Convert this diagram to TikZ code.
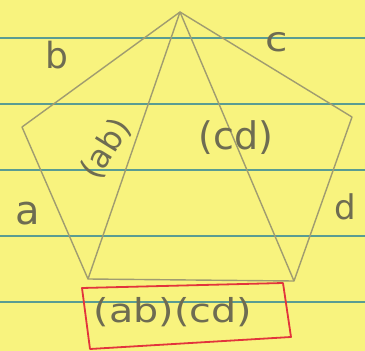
\documentclass[tikz,border=0pt]{standalone}
\usepackage{fontspec}
\setmainfont{DejaVu Sans}
\definecolor{paper}{HTML}{F8F37E}
\definecolor{rule}{HTML}{5A9C92}
\definecolor{pencil}{HTML}{A09C70}
\definecolor{ink}{HTML}{6E6C52}
\definecolor{redpen}{HTML}{E2343C}
\newcommand{\fsz}[1]{\fontsize{#1}{#1}\selectfont}
\begin{document}
\begin{tikzpicture}[x=1pt,y=-1pt,
  ruleline/.style={rule,line width=2.6pt},
  edge/.style={pencil,line width=1.4pt,line join=round},
  lbl/.style={ink,inner sep=0pt},
  redbox/.style={redpen,line width=1.8pt,line join=round}]
\fill[paper] (0,0) rectangle (365,351);
\useasboundingbox (0,0) rectangle (365,351);
% ruled lines
\foreach \y in {38,104,170,236,302} \draw[ruleline] (0,\y) -- (365,\y);
% pentagon vertices
\coordinate (T) at (180,12);
\coordinate (UL) at (22,127);
\coordinate (UR) at (352,117);
\coordinate (BL) at (88,279);
\coordinate (BR) at (294,281);
\draw[edge] (T) -- (UL) -- (BL) -- (BR) -- (UR) -- cycle;
\draw[edge] (T) -- (BL);
\draw[edge] (T) -- (BR);
% labels
\node[lbl,font=\fsz{36}] (lb) at (57,55) {b};
\node[lbl,font=\fsz{34},xscale=1.2] (lc) at (277,42) {c};
\node[lbl,font=\fsz{40}] (la) at (28,214) {a};
\node[lbl,font=\fsz{34}] (ld) at (345,207) {d};
\node[lbl,rotate=58,font=\fsz{32}] (lab) at (106,149) {(ab)};
\node[lbl,font=\fsz{38}] (lcd) at (236,138) {(cd)};
% red box
\coordinate (R1) at (82,288);
\coordinate (R2) at (283,283);
\coordinate (R3) at (291,337);
\coordinate (R4) at (90,349);
\draw[redbox] (R1) -- (R2) -- (R3) -- (R4) -- cycle;
\node[lbl,xscale=1.2,font=\fsz{33}] (prod) at (173,312) {(ab)(cd)};
\end{tikzpicture}
\end{document}
